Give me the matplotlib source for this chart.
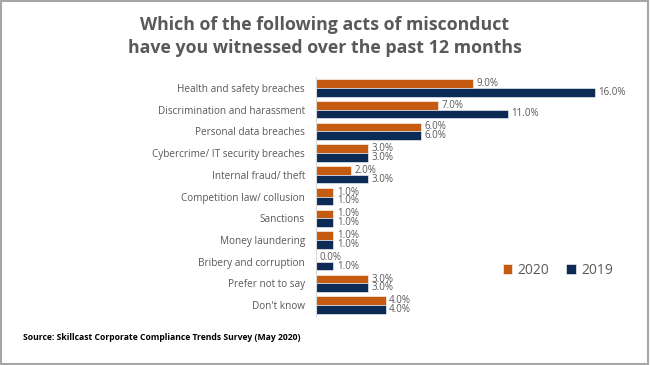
import matplotlib.pyplot as plt
from matplotlib.patches import Rectangle

# data
categories = ['Health and safety breaches', 'Discrimination and harassment',
              'Personal data breaches', 'Cybercrime/ IT security breaches',
              'Internal fraud/ theft', 'Competition law/ collusion',
              'Sanctions', 'Money laundering', 'Bribery and corruption',
              'Prefer not to say', "Don't know"]
vals_2020 = [9, 7, 6, 3, 2, 1, 1, 1, 0, 3, 4]
vals_2019 = [16, 11, 6, 3, 3, 1, 1, 1, 1, 3, 4]

c2020 = '#C55A11'
c2019 = '#0B2A55'
grey = '#595959'

plt.rcParams['font.family'] = ['Open Sans', 'DejaVu Sans']

fig = plt.figure(figsize=(6.5, 3.65), dpi=100)
ax = fig.add_axes([316/650, 1-316/365, 305/650, 239/365])

y = list(range(len(categories)))
h = 0.4
b1 = ax.barh([i - h/2 for i in y], vals_2020, height=h, color=c2020,
             edgecolor='white', linewidth=0.4, label='2020')
b2 = ax.barh([i + h/2 for i in y], vals_2019, height=h, color=c2019,
             edgecolor='white', linewidth=0.4, label='2019')

for bars, vals in ((b1, vals_2020), (b2, vals_2019)):
    for bar, v in zip(bars, vals):
        ax.text(v + 0.2, bar.get_y() + bar.get_height()/2, f'{v:.1f}%',
                va='center', ha='left', fontsize=7, color=grey)

ax.set_ylim(len(categories) - 0.5, -0.5)
ax.set_xlim(0, 17.5)
ax.set_yticks(y)
ax.set_yticklabels(categories, fontsize=7.2, color=grey)
ax.tick_params(axis='y', length=0, pad=8)
ax.set_xticks([])
for s in ('top', 'right', 'bottom'):
    ax.spines[s].set_visible(False)
ax.spines['left'].set_color('#D9D9D9')
ax.spines['left'].set_linewidth(0.8)

ax.legend(loc='upper left', bbox_to_anchor=(490/650, 1-250/365),
          bbox_transform=fig.transFigure, ncol=2, frameon=False,
          fontsize=10, handlelength=0.7, handleheight=0.7,
          handletextpad=0.4, columnspacing=1.2, labelcolor=grey)

fig.text(0.5, 1-25/365, 'Which of the following acts of misconduct',
         ha='center', va='center', fontsize=12.8, fontweight='bold', color=grey)
fig.text(0.5, 1-48/365, 'have you witnessed over the past 12 months',
         ha='center', va='center', fontsize=12.8, fontweight='bold', color=grey)
fig.text(23/650, 1-337/365,
         'Source: Skillcast Corporate Compliance Trends Survey (May 2020)',
         ha='left', va='center', fontsize=6.2, fontweight='bold', color='black')

fig.patches.append(Rectangle((0.002, 0.003), 0.995, 0.993, transform=fig.transFigure,
                             fill=False, edgecolor='#A6A6A6', linewidth=1.5))

fig.savefig('out.png', dpi=100)
